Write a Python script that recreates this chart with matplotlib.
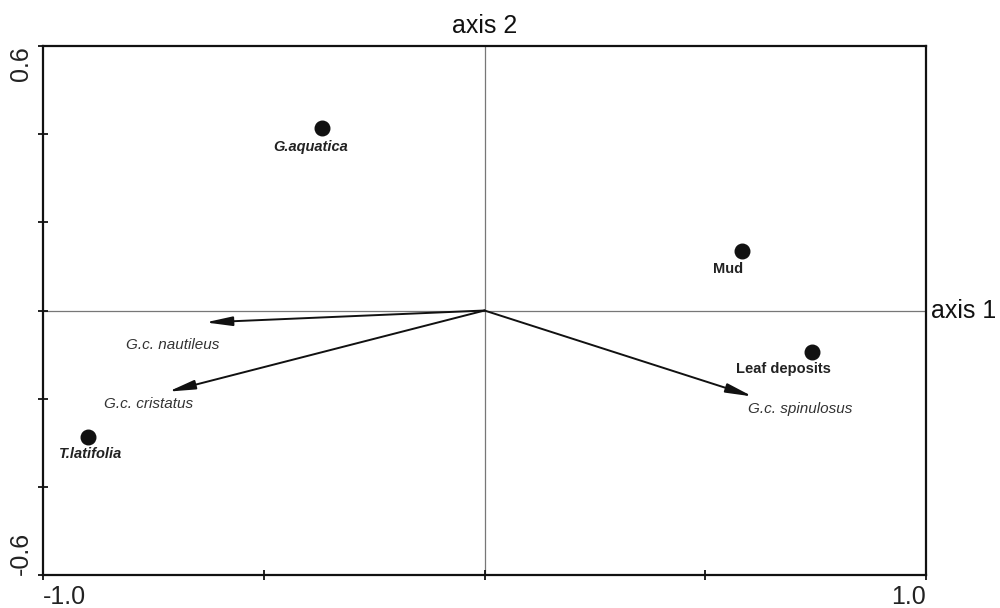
import matplotlib
matplotlib.use('Agg')
import matplotlib.pyplot as plt

plt.rcParams['font.family'] = ['Liberation Sans', 'DejaVu Sans']

# Sitios / variables (puntos)
site_names = ['G.aquatica', 'Mud', 'Leaf deposits', 'T.latifolia']
site_x = [-0.367, 0.584, 0.741, -0.897]
site_y = [0.413, 0.136, -0.095, -0.288]
site_italic = [True, False, False, True]

# Especies (flechas)
species_names = ['G.c. nautileus', 'G.c. cristatus', 'G.c. spinulosus']
species_x = [-0.632, -0.716, 0.607]
species_y = [-0.027, -0.184, -0.195]

# Ejes
x_ticks = [-1.0, -0.5, 0.0, 0.5, 1.0]
x_ticklabels = ['-1.0', '', '', '', '1.0']
y_ticks = [-0.6, -0.4, -0.2, 0.0, 0.2, 0.4, 0.6]
y_ticklabels = ['-0.6', '', '', '', '', '', '0.6']

# desplazamientos de etiquetas (pixeles)
site_offsets = [(-12, -19), (-14, -18), (-28, -17), (2, -17)]
species_offsets = [(-33, -23), (-20, -12), (48, -13)]

fig = plt.figure(figsize=(10, 6.08), dpi=100)
ax = fig.add_axes([0.043, 0.0543, 0.883, 0.870])
ax.set_xlim(-1.0, 1.0)
ax.set_ylim(-0.6, 0.6)

ax.axhline(0, color='#777777', lw=0.9, zorder=1)
ax.axvline(0, color='#777777', lw=0.9, zorder=1)

# flechas de especies
for name, x, y, off in zip(species_names, species_x, species_y, species_offsets):
    ax.annotate('', xy=(x, y), xytext=(0, 0),
                arrowprops=dict(arrowstyle='-|>,head_length=1.6,head_width=0.28',
                                color='#111111', lw=1.4, shrinkA=0, shrinkB=0),
                zorder=3)
    ax.annotate(name, xy=(x, y), xytext=off, textcoords='offset pixels',
                ha='center', va='center', fontsize=11, style='italic',
                color='#333333')

# puntos
ax.scatter(site_x, site_y, s=110, color='#111111', zorder=4)
for name, x, y, it, off in zip(site_names, site_x, site_y, site_italic, site_offsets):
    ax.annotate(name, xy=(x, y), xytext=off, textcoords='offset pixels',
                ha='center', va='center', fontsize=10.5, fontweight='bold',
                style='italic' if it else 'normal', color='#222222')

ax.set_xticks(x_ticks)
ax.set_xticklabels(x_ticklabels, fontsize=18)
ax.set_yticks(y_ticks)
ax.set_yticklabels(y_ticklabels, fontsize=18, rotation=90)
xl = ax.get_xticklabels()
xl[0].set_ha('left')
xl[-1].set_ha('right')
yl = ax.get_yticklabels()
yl[0].set_va('bottom')
yl[-1].set_va('top')
ax.tick_params(direction='inout', length=7, width=1.3, color='#111111',
               labelcolor='#222222', pad=4)

for sp in ax.spines.values():
    sp.set_linewidth(1.6)
    sp.set_color('#111111')

ax.text(0.5, 1.015, 'axis 2', transform=ax.transAxes, ha='center', va='bottom',
        fontsize=18, color='#111111')
ax.text(1.006, 0.5, 'axis 1', transform=ax.transAxes, ha='left', va='center',
        fontsize=18, color='#111111')

fig.savefig('out.png', dpi=100)
